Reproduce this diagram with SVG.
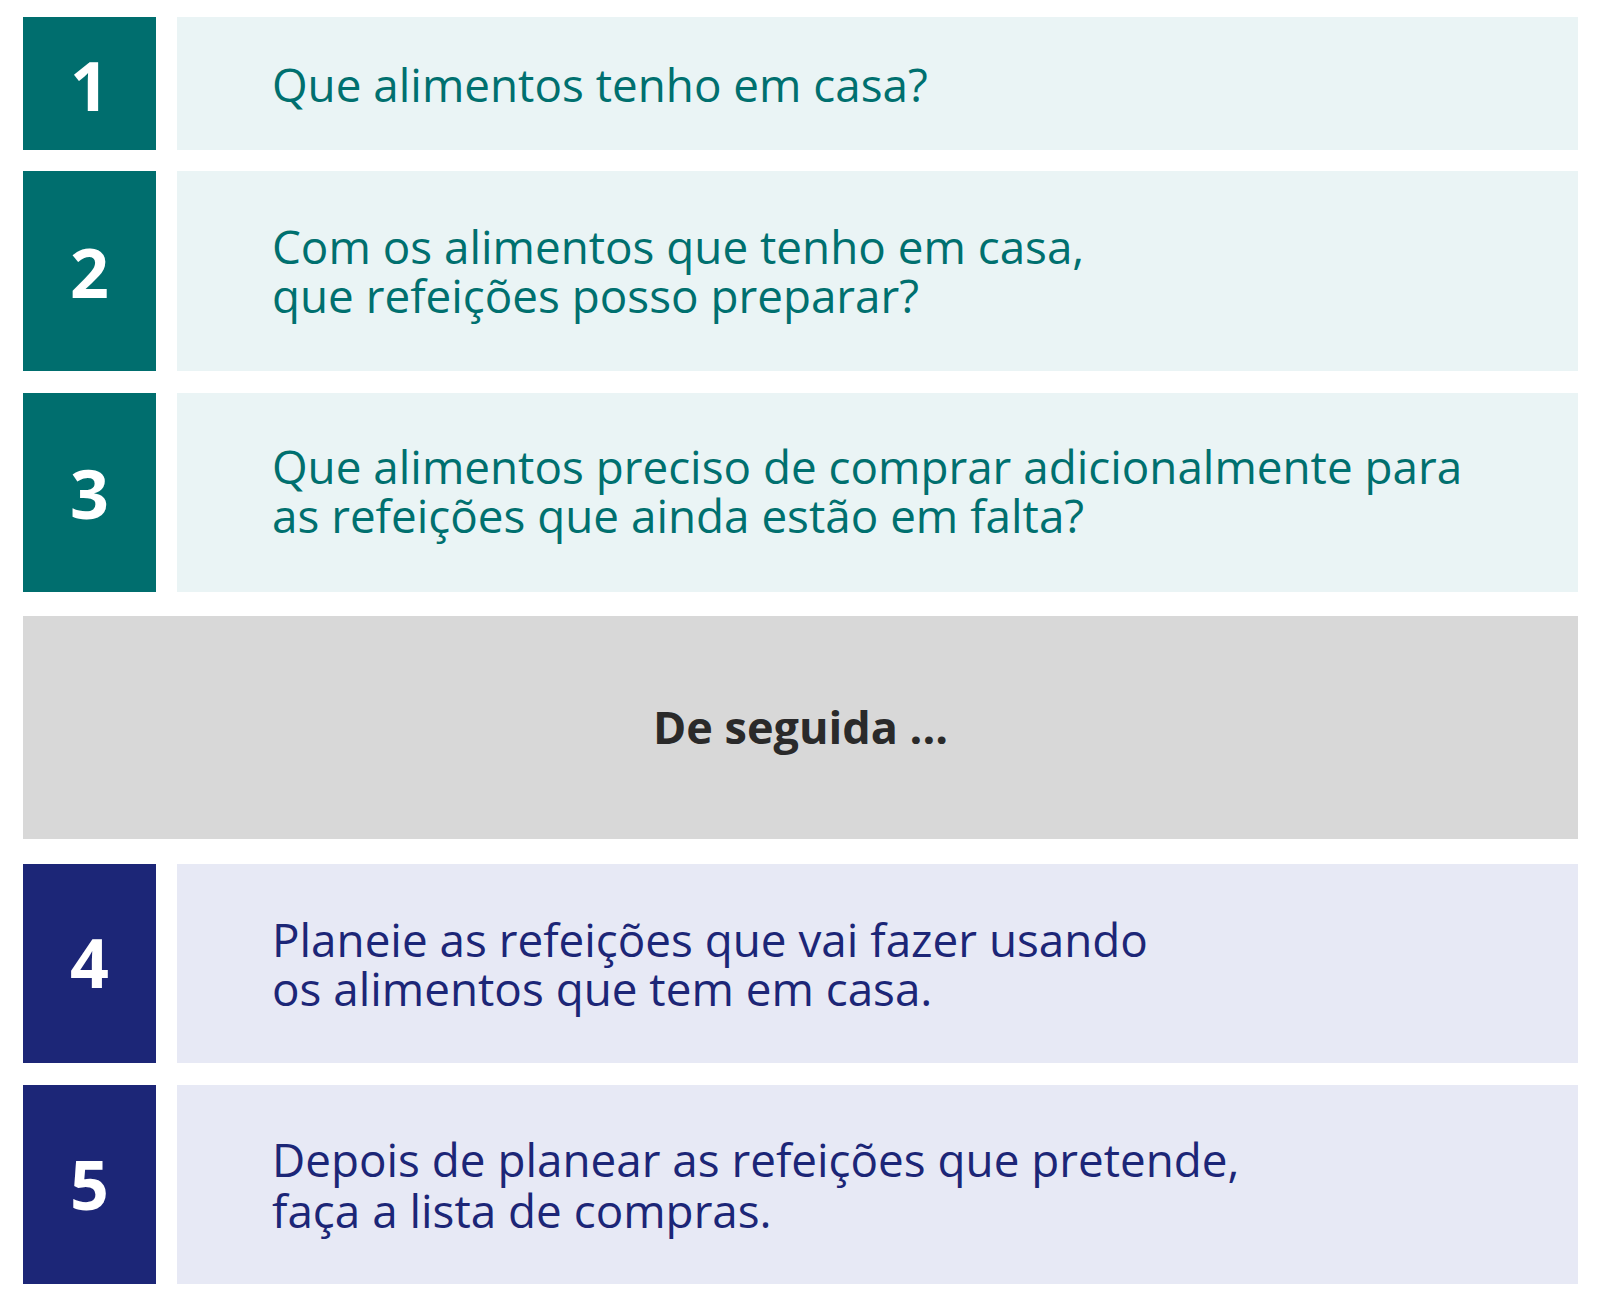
<svg xmlns="http://www.w3.org/2000/svg" width="1608" height="1299" viewBox="0 0 1608 1299">
<style>
.num{font-family:"Open Sans","Noto Sans",sans-serif;font-weight:700;font-size:68px;fill:#ffffff;text-anchor:middle}
.txt{font-family:"Open Sans","Noto Sans",sans-serif;font-size:45.8px}
.teal .sq{fill:#006E6E}
.teal .bg{fill:#EAF4F5}
.teal .txt{fill:#00706F}
.navy .sq{fill:#1C2677}
.navy .bg{fill:#E7E9F5}
.navy .txt{fill:#1C2677}
</style>
<rect width="1608" height="1299" fill="#ffffff"/>
<g id="step1" class="teal">
<rect class="sq" x="23" y="17" width="133" height="133"/>
<rect class="bg" x="177" y="17" width="1401" height="133"/>
<text class="num" x="89.5" y="111">1</text>
<text class="txt" x="272" y="102">Que alimentos tenho em casa?</text>
</g>
<g id="step2" class="teal">
<rect class="sq" x="23" y="171" width="133" height="200"/>
<rect class="bg" x="177" y="171" width="1401" height="200"/>
<text class="num" x="89.5" y="298">2</text>
<text class="txt" x="272" y="264">Com os alimentos que tenho em casa,</text>
<text class="txt" x="272" y="313">que refeições posso preparar?</text>
</g>
<g id="step3" class="teal">
<rect class="sq" x="23" y="393" width="133" height="199"/>
<rect class="bg" x="177" y="393" width="1401" height="199"/>
<text class="num" x="89.5" y="519">3</text>
<text class="txt" x="272" y="484">Que alimentos preciso de comprar adicionalmente para</text>
<text class="txt" x="272" y="533">as refeições que ainda estão em falta?</text>
</g>
<g id="next">
<rect x="23" y="616" width="1555" height="223" fill="#D8D8D8"/>
<text x="800.5" y="744" font-family="Open Sans, Noto Sans, sans-serif" font-weight="700" font-size="45" fill="#2A2A2A" text-anchor="middle">De seguida ...</text>
</g>
<g id="step4" class="navy">
<rect class="sq" x="23" y="864" width="133" height="199"/>
<rect class="bg" x="177" y="864" width="1401" height="199"/>
<text class="num" x="89.5" y="988">4</text>
<text class="txt" x="272" y="957">Planeie as refeições que vai fazer usando</text>
<text class="txt" x="272" y="1006">os alimentos que tem em casa.</text>
</g>
<g id="step5" class="navy">
<rect class="sq" x="23" y="1085" width="133" height="199"/>
<rect class="bg" x="177" y="1085" width="1401" height="199"/>
<text class="num" x="89.5" y="1210">5</text>
<text class="txt" x="272" y="1177">Depois de planear as refeições que pretende,</text>
<text class="txt" x="272" y="1228">faça a lista de compras.</text>
</g>
<g id="connectors"/>
</svg>
